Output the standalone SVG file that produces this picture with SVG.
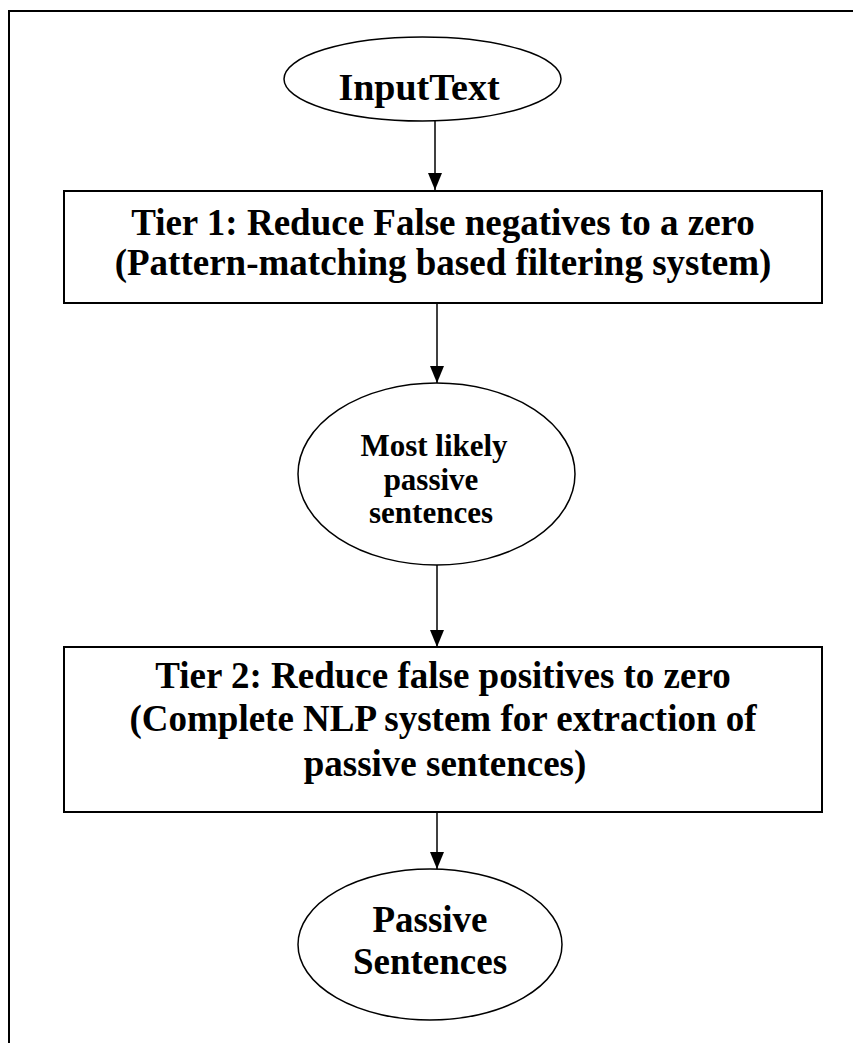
<svg xmlns="http://www.w3.org/2000/svg" width="853" height="1043" viewBox="0 0 853 1043">
<defs>
<marker id="arr" markerWidth="17" markerHeight="14" refX="17" refY="7" orient="auto" markerUnits="userSpaceOnUse" viewBox="0 0 17 14">
<path d="M0,0 L17,7 L0,14 Z" fill="#000"/>
</marker>
</defs>
<style>
.shape{fill:#fff;stroke:#000;stroke-width:1.5}
.box{fill:#fff;stroke:#000;stroke-width:2}
.t{font-family:"Liberation Serif","Times New Roman",serif;font-weight:bold;fill:#000;text-anchor:middle}
.big{font-size:37px}
.mid{font-size:31px}
.conn{stroke:#000;stroke-width:1.5;fill:none}
</style>
<rect width="853" height="1043" fill="#fff"/>
<path d="M9,1043 V11 H853" fill="none" stroke="#000" stroke-width="2"/>
<g id="input">
<ellipse class="shape" cx="422.5" cy="79" rx="138.5" ry="42"/>
<text class="t big" x="419" y="100" style="font-size:38px">InputText</text>
</g>
<g id="tier1">
<rect class="box" x="64" y="191" width="758" height="112"/>
<text class="t big" x="443" y="235">Tier 1: Reduce False negatives to a zero</text>
<text class="t big" x="443" y="275">(Pattern-matching based filtering system)</text>
</g>
<g id="likely">
<ellipse class="shape" cx="436.5" cy="474" rx="138.5" ry="91"/>
<text class="t mid" x="434" y="456">Most likely</text>
<text class="t mid" x="431" y="490">passive</text>
<text class="t mid" x="431" y="523">sentences</text>
</g>
<g id="tier2">
<rect class="box" x="64" y="647" width="758" height="165"/>
<text class="t big" x="443" y="688">Tier 2: Reduce false positives to zero</text>
<text class="t big" x="443" y="731">(Complete NLP system for extraction of</text>
<text class="t big" x="445" y="776">passive sentences)</text>
</g>
<g id="passive">
<ellipse class="shape" cx="430" cy="944.5" rx="132" ry="75.5"/>
<text class="t big" x="430" y="932">Passive</text>
<text class="t big" x="430" y="974">Sentences</text>
</g>
<g id="connectors">
<line class="conn" x1="435" y1="121" x2="435" y2="190" marker-end="url(#arr)"/>
<line class="conn" x1="437" y1="303" x2="437" y2="383" marker-end="url(#arr)"/>
<line class="conn" x1="437" y1="565" x2="437" y2="647" marker-end="url(#arr)"/>
<line class="conn" x1="437" y1="812" x2="437" y2="869" marker-end="url(#arr)"/>
</g>
</svg>
